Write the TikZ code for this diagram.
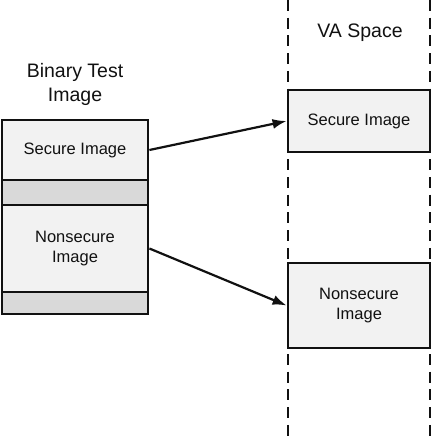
\documentclass[tikz,border=0pt]{standalone}
\usepackage{fontspec}
\setmainfont{Liberation Sans}
\usetikzlibrary{arrows.meta}
\definecolor{boxfill}{HTML}{F2F2F2}
\definecolor{stripfill}{HTML}{D9D9D9}
\definecolor{ink}{HTML}{111111}
\begin{document}
\begin{tikzpicture}[x=1pt,y=-1pt,
  imgbox/.style={draw=ink, line width=2.8pt, fill=boxfill, inner sep=0pt, align=center,
    font=\fontsize{16.5}{20.5}\selectfont, text=ink},
  stripbox/.style={draw=ink, line width=2.8pt, fill=stripfill, inner sep=0pt},
  title/.style={font=\fontsize{19.5}{24}\selectfont, text=ink, align=center},
  lane/.style={draw=ink, line width=2.8pt, dash pattern=on 11pt off 6.7pt},
  link/.style={draw=ink, line width=2.2pt, -{Latex[length=14pt,width=10pt]}}]
\useasboundingbox (0,0) rectangle (441,436);
% lanes
\coordinate (l1t) at (288,0);
\coordinate (l1b) at (288,436);
\coordinate (l2t) at (430,0);
\coordinate (l2b) at (430,436);
\draw[lane] (l1t) -- (l1b);
\draw[lane] (l2t) -- (l2b);
% titles
\node[title] (bt) at (75,84) {Binary Test\\Image};
\node[title] (va) at (360,33) {VA Space};
% left stack
\node[imgbox, minimum width=146pt, minimum height=60pt] (ls) at (75,150) {Secure Image};
\node[stripbox, minimum width=146pt, minimum height=25pt] (g1) at (75,192.5) {};
\node[imgbox, minimum width=146pt, minimum height=87pt] (ln) at (75,248.5) {Nonsecure\\Image};
\node[stripbox, minimum width=146pt, minimum height=22pt] (g2) at (75,303) {};
% right boxes
\node[imgbox, minimum width=142pt, minimum height=62pt] (rs) at (359,121) {Secure Image};
\node[imgbox, minimum width=142pt, minimum height=85pt] (rn) at (359,305.5) {Nonsecure\\Image};
% arrows
\draw[link] (ls.east) -- (rs.west);
\draw[link] (ln.east) -- (rn.west);
\end{tikzpicture}
\end{document}
